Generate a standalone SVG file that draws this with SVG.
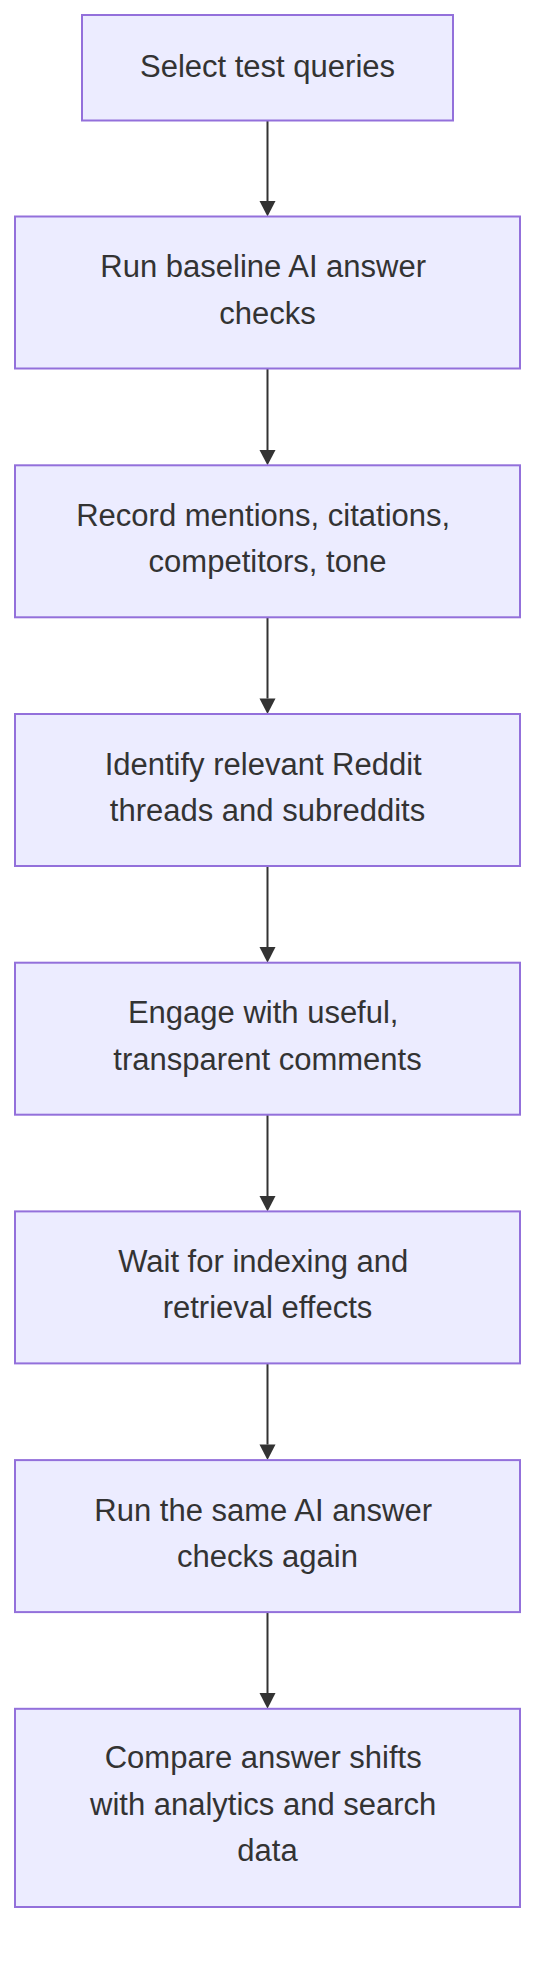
<svg xmlns="http://www.w3.org/2000/svg" width="552" height="1980" viewBox="0 0 552 1980">
<defs>
<style>
.node rect{fill:#ECECFF;stroke:#9370DB;stroke-width:2;}
.node text{font-family:"Liberation Sans",Arial,sans-serif;font-size:31px;fill:#333333;text-anchor:middle;}
.edge{stroke:#333333;stroke-width:2;fill:none;}
.head{fill:#333333;}
</style>
</defs>
<rect width="552" height="1980" fill="#ffffff"/>
<g id="connectors">
<line class="edge" x1="267.5" y1="120.5" x2="267.5" y2="201"/>
<path class="head" d="M259.5,201 L275.5,201 L267.5,216.5 Z"/>
<line class="edge" x1="267.5" y1="368.5" x2="267.5" y2="450"/>
<path class="head" d="M259.5,450 L275.5,450 L267.5,465.3 Z"/>
<line class="edge" x1="267.5" y1="617.3" x2="267.5" y2="698.5"/>
<path class="head" d="M259.5,698.5 L275.5,698.5 L267.5,714 Z"/>
<line class="edge" x1="267.5" y1="866" x2="267.5" y2="947"/>
<path class="head" d="M259.5,947 L275.5,947 L267.5,962.7 Z"/>
<line class="edge" x1="267.5" y1="1114.7" x2="267.5" y2="1196"/>
<path class="head" d="M259.5,1196 L275.5,1196 L267.5,1211.4 Z"/>
<line class="edge" x1="267.5" y1="1363.4" x2="267.5" y2="1444.5"/>
<path class="head" d="M259.5,1444.5 L275.5,1444.5 L267.5,1460.1 Z"/>
<line class="edge" x1="267.5" y1="1612.1" x2="267.5" y2="1693"/>
<path class="head" d="M259.5,1693 L275.5,1693 L267.5,1708.8 Z"/>
</g>
<g id="n1" class="node">
<rect x="82" y="15" width="371" height="105.5"/>
<text x="267.5" y="76.5">Select test queries</text>
</g>
<g id="n2" class="node">
<rect x="15" y="216.5" width="505" height="152"/>
<text x="263.2" y="277">Run baseline AI answer</text>
<text x="267.5" y="323.5">checks</text>
</g>
<g id="n3" class="node">
<rect x="15" y="465.3" width="505" height="152"/>
<text x="263.2" y="525.8">Record mentions, citations,</text>
<text x="267.5" y="572.3">competitors, tone</text>
</g>
<g id="n4" class="node">
<rect x="15" y="714" width="505" height="152"/>
<text x="263.2" y="774.5">Identify relevant Reddit</text>
<text x="267.5" y="821">threads and subreddits</text>
</g>
<g id="n5" class="node">
<rect x="15" y="962.7" width="505" height="152"/>
<text x="263.2" y="1023.2">Engage with useful,</text>
<text x="267.5" y="1069.7">transparent comments</text>
</g>
<g id="n6" class="node">
<rect x="15" y="1211.4" width="505" height="152"/>
<text x="263.2" y="1271.9">Wait for indexing and</text>
<text x="267.5" y="1318.4">retrieval effects</text>
</g>
<g id="n7" class="node">
<rect x="15" y="1460.1" width="505" height="152"/>
<text x="263.2" y="1520.6">Run the same AI answer</text>
<text x="267.5" y="1567.1">checks again</text>
</g>
<g id="n8" class="node">
<rect x="15" y="1708.8" width="505" height="198.2"/>
<text x="263.2" y="1768.4">Compare answer shifts</text>
<text x="263.2" y="1814.9">with analytics and search</text>
<text x="267.5" y="1861.4">data</text>
</g>
</svg>
